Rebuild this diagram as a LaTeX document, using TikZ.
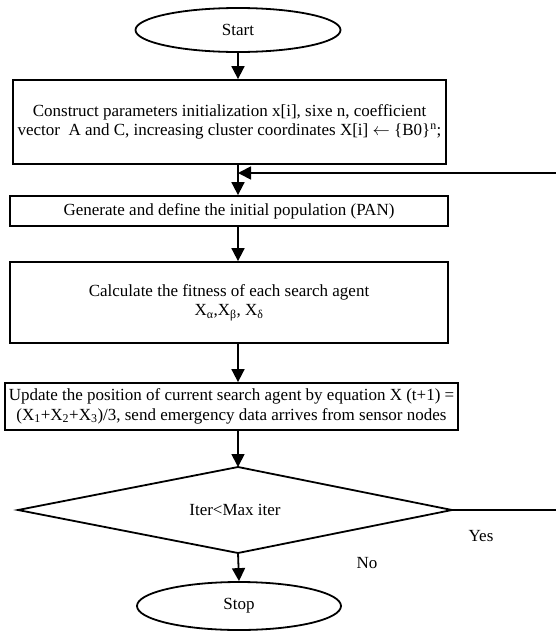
\documentclass[tikz,border=0pt]{standalone}
\usepackage{fontspec}
\setmainfont{Liberation Serif}
\usetikzlibrary{shapes.geometric,arrows.meta}
\begin{document}
\begin{tikzpicture}[x=1pt,y=-1pt,
  every node/.style={font=\fontsize{17}{19.5}\selectfont, inner sep=0pt, align=center},
  box/.style={draw, line width=1.8pt, rectangle},
  term/.style={draw, line width=1.8pt, ellipse},
  decide/.style={draw, line width=1.8pt, line join=miter},
  flow/.style={line width=1.8pt, -{Triangle[width=13pt,length=13pt]}},
  plain/.style={line width=1.8pt}]
\useasboundingbox (0,0) rectangle (556,635);
\node[term, minimum width=205pt, minimum height=44pt] (start) at (238,30) {Start};
\node[box, minimum width=433pt, minimum height=84pt] (b1) at (229.5,122)
  {Construct parameters initialization x[i], sixe n, coefficient\\
   vector\ \ A and C, increasing cluster coordinates X[i] $\leftarrow$ \{B0\}\textsuperscript{n};};
\node[box, minimum width=438pt, minimum height=30pt] (b2) at (229,211)
  {Generate and define the initial population (PAN)};
\node[box, minimum width=438pt, minimum height=81pt] (b3) at (229,302.5)
  {Calculate the fitness of each search agent\\
   X\textsubscript{α},X\textsubscript{β}, X\textsubscript{δ}};
\node[box, minimum width=453pt, minimum height=47pt] (b4) at (231.5,406.5)
  {Update the position of current search agent by equation X (t+1) =\\
   (X\textsubscript{1}+X\textsubscript{2}+X\textsubscript{3})/3, send emergency data arrives from sensor nodes};
\node (dec) at (235,510) {Iter<Max iter};
\coordinate (dtop) at (238,467);
\coordinate (dbot) at (238,553);
\coordinate (dleft) at (18,510);
\coordinate (dright) at (452,510);
\draw[decide] (dtop) -- (dright) -- (dbot) -- (dleft) -- cycle;
\node[term, minimum width=204pt, minimum height=48pt] (stop) at (239,606) {Stop};
\node (yes) at (481,536) {Yes};
\node (no) at (367,563) {No};
\coordinate (loopR) at (558,510);
\coordinate (loopT) at (558,173);
\coordinate (join) at (238,173);
\draw[flow] (start.south) -- (start.south |- b1.north);
\draw[flow] (start.south |- b1.south) -- (start.south |- b2.north);
\draw[flow] (start.south |- b2.south) -- (start.south |- b3.north);
\draw[flow] (start.south |- b3.south) -- (start.south |- b4.north);
\draw[flow] (start.south |- b4.south) -- (dtop);
\draw[flow] (dbot) -- (stop.north);
\draw[plain] (dright) -- (loopR) -- (loopT);
\draw[flow] (loopT) -- (join);
\end{tikzpicture}
\end{document}
